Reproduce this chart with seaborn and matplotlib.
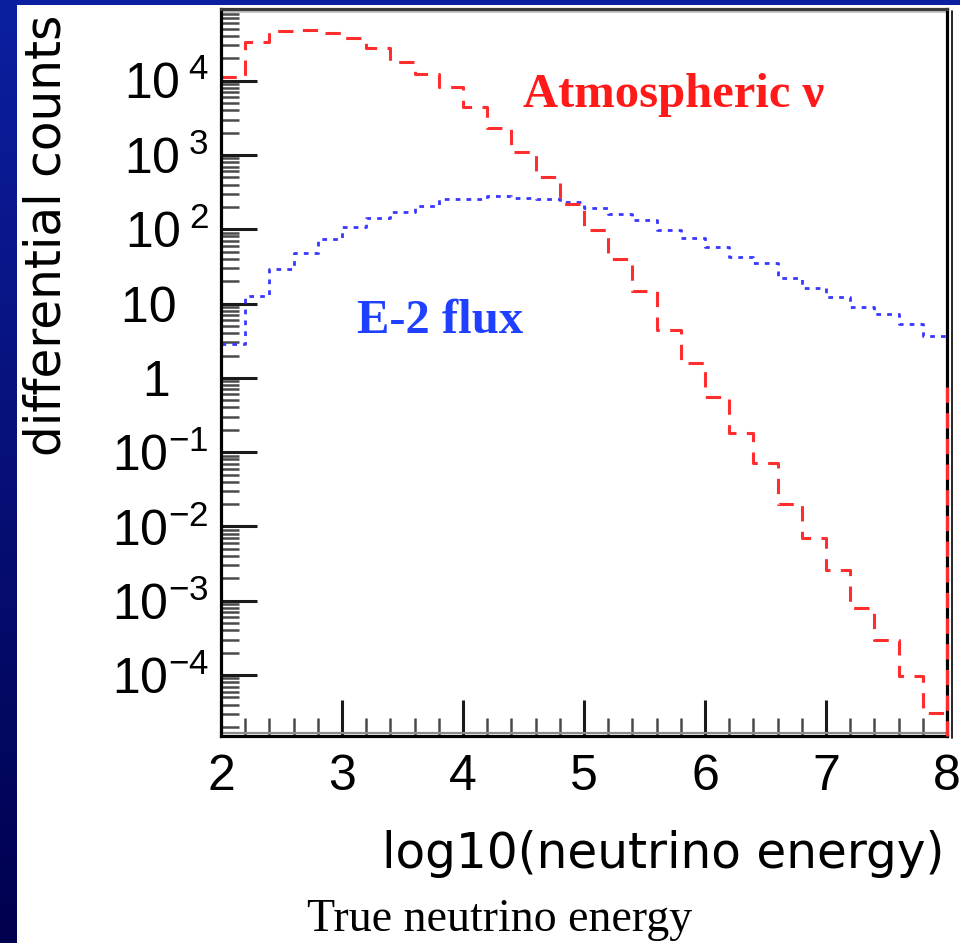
import numpy as np
import pandas as pd
import matplotlib
matplotlib.use("Agg")
import matplotlib.pyplot as plt
import seaborn as sns
from matplotlib.ticker import LogLocator, MultipleLocator, FuncFormatter, NullFormatter, FixedLocator
from matplotlib.patches import Rectangle
from matplotlib.lines import Line2D
from matplotlib.colors import LinearSegmentedColormap

# ---------------- data ----------------
bin_edges = [2.0, 2.2, 2.4, 2.6, 2.8, 3.0, 3.2, 3.4, 3.6, 3.8, 4.0, 4.2, 4.4, 4.6, 4.8,
             5.0, 5.2, 5.4, 5.6, 5.8, 6.0, 6.2, 6.4, 6.6, 6.8, 7.0, 7.2, 7.4, 7.6, 7.8, 8.0]

atmospheric_counts = [1.12e4, 3.3e4, 4.6e4, 4.8e4, 4.4e4, 3.7e4, 2.75e4, 1.8e4, 1.23e4, 8.1e3,
                      4.4e3, 2.3e3, 1.1e3, 5.1e2, 2.2e2, 98, 40, 14.8, 4.4, 1.57,
                      0.55, 0.18, 0.071, 0.020, 6.9e-3, 2.6e-3, 7.9e-4, 2.95e-4, 9.8e-5, 3.1e-5]

e2_flux_counts = [2.86, 12.6, 29.2, 47.9, 74, 108, 142, 173, 208, 254,
                  257, 281, 261, 254, 235, 194, 161, 133, 98, 76,
                  57, 42, 35, 21.9, 16.1, 12.4, 9.1, 7.2, 5.3, 3.7]

x_ticks = [2, 3, 4, 5, 6, 7, 8]
y_ticks = [1e-4, 1e-3, 1e-2, 1e-1, 1, 10, 1e2, 1e3, 1e4]

label_atm = "Atmospheric \u03bd"
label_e2 = "E-2 flux"
x_label = "log10(neutrino energy)"
y_label = "differential counts"
caption = "True neutrino energy"

# ---------------- style ----------------
sns.set_style("white")
plt.rcParams["font.family"] = ["Liberation Sans", "DejaVu Sans"]
plt.rcParams["mathtext.fontset"] = "custom"
plt.rcParams["mathtext.rm"] = "Liberation Sans"
plt.rcParams["mathtext.it"] = "Liberation Sans:italic"
plt.rcParams["mathtext.bf"] = "Liberation Sans:bold"
plt.rcParams["text.color"] = "black"
plt.rcParams["axes.labelcolor"] = "black"

RED = "#ff2e2e"
BLUE = "#3838ff"

W, H = 960, 943
fig = plt.figure(figsize=(W / 100, H / 100), dpi=100)

# dark blue slide background with gradient
bg = fig.add_axes([0, 0, 1, 1], zorder=-10)
grad = np.linspace(0, 1, 256)[:, None]
cmap = LinearSegmentedColormap.from_list("bg", ["#0c1fa0", "#00004e"])
bg.imshow(grad, aspect="auto", cmap=cmap, extent=[0, 1, 0, 1])
bg.set_axis_off()
fig.patches.append(Rectangle((17 / W, 0), 1 - 17 / W, 1 - 5 / H, transform=fig.transFigure,
                             facecolor="white", edgecolor="none", zorder=-5))
fig.lines.append(Line2D([952 / W, 952 / W], [1 - 11 / H, 1 - 738 / H], transform=fig.transFigure,
                        color="black", linewidth=1.2, zorder=5))

ax = fig.add_axes([221 / W, 1 - 736 / H, 726 / W, 727 / H])
ax.set_facecolor("none")

centers = [(a + b) / 2 for a, b in zip(bin_edges[:-1], bin_edges[1:])]
df = pd.DataFrame({"log_energy": centers,
                   "atmospheric": atmospheric_counts,
                   "e2": e2_flux_counts})

ax.set_yscale("log")
sns.histplot(data=df, x="log_energy", weights="e2", bins=bin_edges, element="step",
             fill=False, color=BLUE, linewidth=2.0, dashes=(1.7, 2.2), ax=ax)
sns.histplot(data=df, x="log_energy", weights="atmospheric", bins=bin_edges, element="step",
             fill=False, color=RED, linewidth=2.2, dashes=(5, 3.4), ax=ax)

ylo, yhi = 10 ** -4.82, 10 ** 4.965
# closing edges of the histograms at the upper end of the range
ax.vlines(bin_edges[-1], ylo, e2_flux_counts[-1], colors=BLUE, linewidth=2.0,
          linestyles=(0, (1.7, 2.2)), clip_on=False)
ax.vlines(bin_edges[-1], ylo, 1.0, colors=RED, linewidth=2.2,
          linestyles=(0, (5, 3.4)), clip_on=False, zorder=3)

ax.set_xlim(bin_edges[0], bin_edges[-1])
ax.set_ylim(ylo, yhi)

ax.xaxis.set_major_locator(FixedLocator(x_ticks))
ax.xaxis.set_minor_locator(MultipleLocator(0.2))
ax.xaxis.set_major_formatter(FuncFormatter(lambda v, p: "%d" % round(v)))
ax.yaxis.set_major_locator(FixedLocator(y_ticks))
ax.yaxis.set_minor_locator(LogLocator(base=10, subs=np.arange(2, 10), numticks=100))
ax.yaxis.set_minor_formatter(NullFormatter())


def yfmt(v, p):
    e = int(round(np.log10(v)))
    if e == 0:
        return "1\u2007\u2009"
    if e == 1:
        return "10\u2007\u200a"
    if e > 0:
        return r"$\mathregular{10^{\;%d}}$" % e
    return r"$\mathregular{10^{%d}}$" % e


ax.yaxis.set_major_formatter(FuncFormatter(yfmt))

ax.tick_params(bottom=True, left=True, top=False, right=False, which="both")
ax.tick_params(which="major", direction="in", length=26, width=2.2, color="#1a1a1a",
               labelsize=36, labelcolor="black")
ax.tick_params(which="minor", direction="in", length=13, width=1.8, color="#4a4a4a")
ax.tick_params(axis="x", which="major", pad=13)
ax.tick_params(axis="y", which="major", pad=9)

for side in ["left", "bottom", "right"]:
    ax.spines[side].set_color("black")
    ax.spines[side].set_linewidth(2.3)
ax.spines["top"].set_color("#3a3a3a")
ax.spines["top"].set_linewidth(2.3)
for s in ax.spines.values():
    s.set_visible(True)
# light grey inner bands of the frame (ROOT look)
ax.plot([0, 1], [1 - 3 / 727, 1 - 3 / 727], transform=ax.transAxes, color="#c4c4c4",
        linewidth=1.4, clip_on=False, zorder=1)
ax.plot([0, 1], [3 / 727, 3 / 727], transform=ax.transAxes, color="#8c8c8c",
        linewidth=1.6, clip_on=False, zorder=1)

ax.set_xlabel(x_label, fontsize=35, loc="right", color="black", family="DejaVu Sans")
ax.xaxis.set_label_coords(1 - 3 / 726, -(830 - 736) / 727)
ax.set_ylabel(y_label, fontsize=35, loc="top", color="black", family="DejaVu Sans")
ax.yaxis.set_label_coords(-(221 - 71) / 726, 1 - 6 / 727)

ax.text((523 - 221) / 726, (736 - 106.7) / 727, label_atm, transform=ax.transAxes,
        color="#ff1a1a", fontsize=35, fontweight="bold", family="Liberation Serif",
        ha="left", va="baseline")
ax.text((357 - 221) / 726, (736 - 333) / 727, label_e2, transform=ax.transAxes,
        color="#2040ff", fontsize=35, fontweight="bold", family="Liberation Serif",
        ha="left", va="baseline")
fig.text(307 / W, 1 - 931 / H, caption, color="black", fontsize=33,
         family="Liberation Serif", ha="left", va="baseline")

fig.savefig("out.png", dpi=100)
